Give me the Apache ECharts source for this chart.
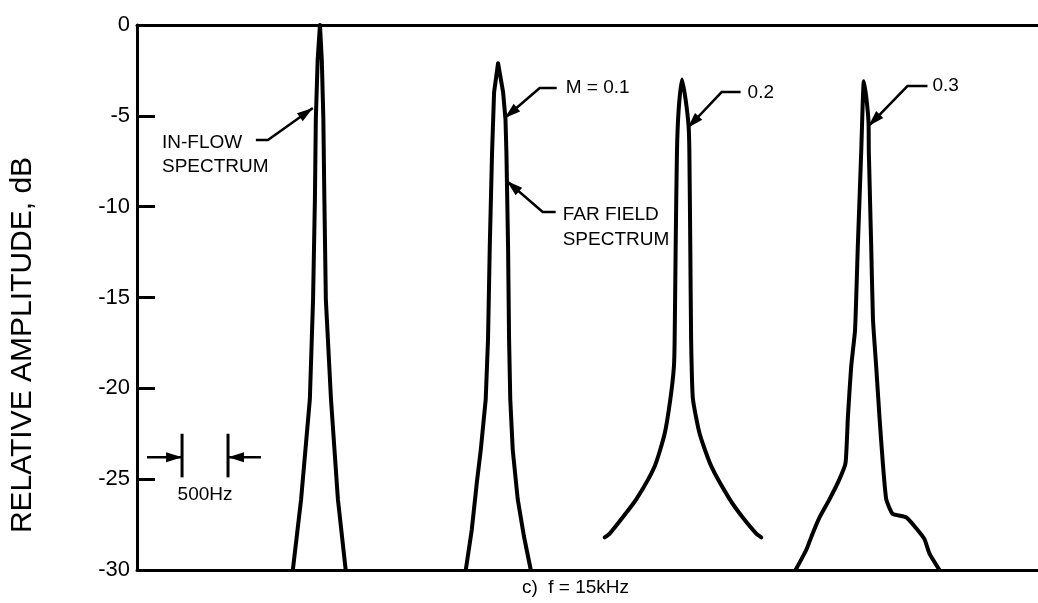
<!DOCTYPE html>
<html>
<head>
<meta charset="utf-8">
<script src="https://cdn.jsdelivr.net/npm/echarts@6/dist/echarts.min.js"></script>
<style>
  html, body { margin: 0; padding: 0; background: #fff; }
  #chart { width: 1038px; height: 603px; }
</style>
</head>
<body>
<div id="chart"></div>
<script>
// ---- Data (frequency offset in Hz, relative amplitude in dB) ----
const yTicks = [0, -5, -10, -15, -20, -25, -30];

const inflowHz = [1695, 1785, 1880, 1915, 1935, 1945, 1965, 1990, 2010, 2027, 2038, 2054, 2110, 2185, 2270];
const inflowDb = [-30, -26.1, -20.6, -15.1, -9.6, -5.2, -1.9, 0, -1.9, -5.2, -9.6, -15.1, -20.6, -26.1, -30];

const m01Hz = [3576, 3641, 3696, 3739, 3793, 3818, 3837, 3862, 3884, 3927, 3982, 4008, 4018, 4036, 4047, 4060, 4087, 4141, 4207, 4283];
const m01Db = [-30, -27.8, -25.2, -23.4, -20.6, -17.3, -12.2, -7.0, -3.7, -2.1, -3.7, -5.2, -7.0, -12.2, -17.3, -20.6, -23.4, -26.1, -28.1, -30];

const m02Hz = [5087, 5141, 5283, 5432, 5630, 5739, 5801, 5840, 5848, 5859, 5873, 5891, 5927, 5967, 6000, 6008, 6018, 6027, 6033, 6047, 6120, 6247, 6446, 6587, 6736, 6790];
const m02Db = [-28.2, -28.0, -27.1, -26.1, -24.3, -22.5, -20.6, -18.8, -17.3, -12.2, -7.0, -4.7, -3.0, -4.1, -5.6, -7.0, -12.2, -17.3, -18.8, -20.6, -22.5, -24.3, -26.1, -27.1, -28.0, -28.2];

const m03Hz = [7163, 7279, 7348, 7424, 7533, 7641, 7707, 7732, 7768, 7810, 7840, 7877, 7891, 7905, 7935, 7957, 7960, 7986, 8005, 8040, 8076, 8112, 8149, 8217, 8366, 8475, 8565, 8620, 8728];
const m03Db = [-30, -28.9, -28.0, -27.1, -26.1, -25.0, -24.1, -21.6, -18.8, -16.8, -12.2, -7.0, -4.7, -3.1, -4.1, -5.4, -7.0, -12.2, -16.2, -18.8, -21.6, -24.1, -26.1, -26.9, -27.1, -27.7, -28.3, -29.1, -30];

const xMinHz = 0;
const xMaxHz = 9800;

// ---- Annotations (in data units) ----
const labelTexts = [
  { lines: ['IN-FLOW', 'SPECTRUM'], at: [272, -6.47], lineDb: 1.31 },
  { lines: ['M = 0.1'], at: [4663, -3.47], lineDb: 0 },
  { lines: ['FAR FIELD', 'SPECTRUM'], at: [4630, -10.43], lineDb: 1.40 },
  { lines: ['0.2'], at: [6641, -3.72], lineDb: 0 },
  { lines: ['0.3'], at: [8652, -3.33], lineDb: 0 }
];
const leaders = [
  [[1293, -6.33], [1424, -6.33], [1913, -4.57]],
  [[4565, -3.47], [4380, -3.47], [4000, -5.12]],
  [[4554, -10.29], [4413, -10.29], [4022, -8.59]],
  [[6565, -3.69], [6359, -3.69], [5989, -5.67]],
  [[8598, -3.36], [8380, -3.36], [7957, -5.56]]
];
const scaleBarHz = [490, 990];
const scaleBarDb = [-22.5, -24.9];
const scaleArrowDb = -23.8;
const scaleArrowOuterHz = [109, 1348];
const scaleLabel = { text: '500Hz', at: [740, -25.87] };

const FONT = '"Liberation Sans", Arial, Helvetica, sans-serif';

function pairs(xs, ys) { return xs.map((x, i) => [x, ys[i]]); }

const chart = echarts.init(document.getElementById('chart'), null, { renderer: 'canvas' });

function peakSeries(name, xs, ys, smooth) {
  return {
    name: name,
    type: 'line',
    data: pairs(xs, ys),
    showSymbol: false,
    symbol: 'none',
    smooth: smooth,
    lineStyle: { color: '#000', width: 4, join: 'round', cap: 'round' },
    z: 3
  };
}

chart.setOption({
  animation: false,
  backgroundColor: '#fff',
  grid: { left: 137, right: 0, top: 25, bottom: 33, containLabel: false },
  xAxis: [
    {
      type: 'value', min: xMinHz, max: xMaxHz, position: 'bottom',
      axisLine: { show: true, onZero: false, lineStyle: { color: '#000', width: 3 } },
      axisTick: { show: false }, axisLabel: { show: false }, splitLine: { show: false },
      name: 'c)  f = 15kHz', nameLocation: 'middle', nameGap: 8,
      nameTextStyle: { color: '#000', fontSize: 19, fontFamily: FONT, padding: [0, 24, 0, 0] }
    },
    {
      type: 'value', min: xMinHz, max: xMaxHz, position: 'top',
      axisLine: { show: true, onZero: false, lineStyle: { color: '#000', width: 3 } },
      axisTick: { show: false }, axisLabel: { show: false }, splitLine: { show: false }
    }
  ],
  yAxis: {
    type: 'value', min: yTicks[yTicks.length - 1], max: yTicks[0], interval: 5,
    axisLine: { show: true, onZero: false, lineStyle: { color: '#000', width: 3 } },
    axisTick: { show: true, inside: true, length: 18, lineStyle: { color: '#000', width: 3 } },
    axisLabel: { color: '#000', fontSize: 22, fontFamily: FONT, margin: 7 },
    splitLine: { show: false },
    name: 'RELATIVE AMPLITUDE, dB', nameLocation: 'middle', nameGap: 99, nameRotate: 90,
    nameTextStyle: { color: '#000', fontSize: 30, fontFamily: FONT, padding: [0, 95, 0, 0] }
  },
  series: [
    peakSeries('In-flow', inflowHz, inflowDb, false),
    peakSeries('M = 0.1', m01Hz, m01Db, false),
    peakSeries('M = 0.2', m02Hz, m02Db, 0.2),
    peakSeries('M = 0.3', m03Hz, m03Db, 0.15)
  ]
});

function toPx(p) { return chart.convertToPixel({ xAxisIndex: 0, yAxisIndex: 0 }, p); }

function arrowHead(tip, from, len, half) {
  const dx = tip[0] - from[0], dy = tip[1] - from[1];
  const d = Math.sqrt(dx * dx + dy * dy) || 1;
  const ux = dx / d, uy = dy / d;
  const bx = tip[0] - ux * len, by = tip[1] - uy * len;
  return [tip, [bx - uy * half, by + ux * half], [bx + uy * half, by - ux * half]];
}

const graphics = [];
labelTexts.forEach(function (lt) {
  lt.lines.forEach(function (line, i) {
    const p = toPx([lt.at[0], lt.at[1] - i * lt.lineDb]);
    graphics.push({
      type: 'text', x: p[0], y: p[1], z: 10,
      style: { text: line, fill: '#000', font: '19px ' + FONT, textAlign: 'left', textVerticalAlign: 'middle' }
    });
  });
});
leaders.forEach(function (pts) {
  const pp = pts.map(toPx);
  graphics.push({ type: 'polyline', z: 10, shape: { points: pp }, style: { stroke: '#000', lineWidth: 2.5, fill: null } });
  graphics.push({ type: 'polygon', z: 10, shape: { points: arrowHead(pp[pp.length - 1], pp[pp.length - 2], 16, 5) }, style: { fill: '#000' } });
});
// 500 Hz scale marker
scaleBarHz.forEach(function (hz, i) {
  const a = toPx([hz, scaleBarDb[0]]), b = toPx([hz, scaleBarDb[1]]);
  graphics.push({ type: 'line', z: 10, shape: { x1: a[0], y1: a[1], x2: b[0], y2: b[1] }, style: { stroke: '#000', lineWidth: 3 } });
  const outer = toPx([scaleArrowOuterHz[i], scaleArrowDb]);
  const tip = toPx([hz, scaleArrowDb]);
  graphics.push({ type: 'line', z: 10, shape: { x1: outer[0], y1: outer[1], x2: tip[0], y2: tip[1] }, style: { stroke: '#000', lineWidth: 2.5 } });
  graphics.push({ type: 'polygon', z: 10, shape: { points: arrowHead(tip, outer, 16, 5) }, style: { fill: '#000' } });
});
const sl = toPx(scaleLabel.at);
graphics.push({
  type: 'text', x: sl[0], y: sl[1], z: 10,
  style: { text: scaleLabel.text, fill: '#000', font: '19px ' + FONT, textAlign: 'center', textVerticalAlign: 'middle' }
});

chart.setOption({ graphic: graphics });
</script>
</body>
</html>
